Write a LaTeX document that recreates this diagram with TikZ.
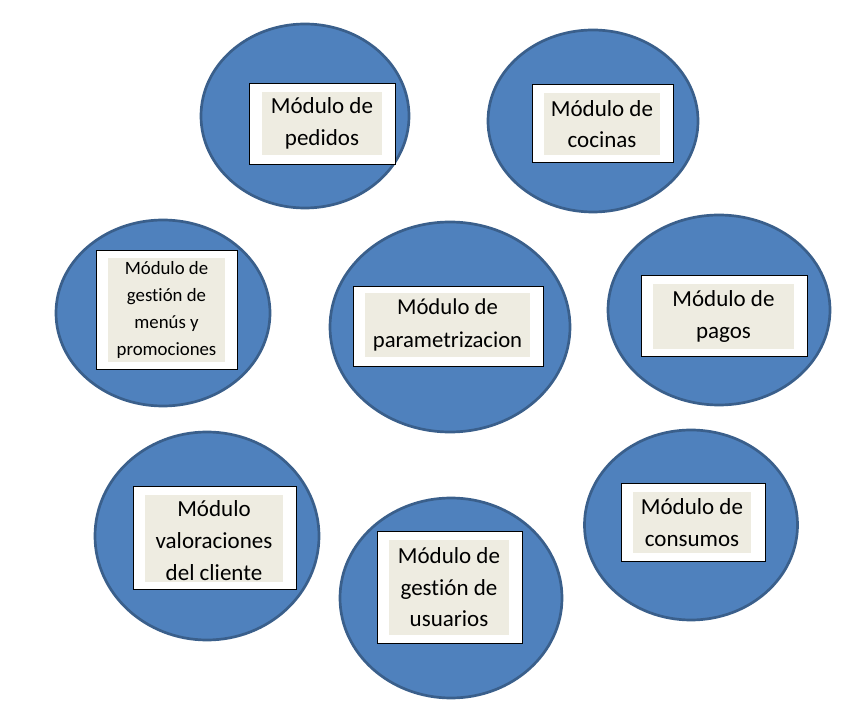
\documentclass[tikz,border=0pt]{standalone}
\usepackage{fontspec}
\setmainfont[Ligatures={NoCommon,NoRare,NoContextual}]{Carlito}
\usetikzlibrary{shapes.geometric}
\definecolor{ellfill}{HTML}{4F81BD}
\definecolor{elldraw}{HTML}{3A5F8B}
\definecolor{beige}{HTML}{EEECE1}
\tikzset{
  modell/.style={ellipse, fill=ellfill, draw=elldraw, line width=2.7pt, inner sep=0pt},
  whitebox/.style={rectangle, fill=white, draw=black, line width=1pt, inner sep=0pt},
  beigebox/.style={rectangle, fill=beige, inner sep=0pt, align=center, text=black},
  bigtxt/.style={font=\fontsize{23}{31.5}\selectfont},
  smalltxt/.style={font=\fontsize{18.8}{27}\selectfont},
}
\begin{document}
\begin{tikzpicture}[x=1pt,y=-1pt]
\useasboundingbox (0,0) rectangle (863,708);
% Pedidos
\node[modell, minimum width=208, minimum height=184] (ePed) at (305,116) {};
\node[whitebox, minimum width=146, minimum height=81] (wPed) at (322,124.5) {};
\node[beigebox, bigtxt, minimum width=120, minimum height=63] (bPed) at (322,123.5) {Módulo de\\pedidos};
% Cocinas
\node[modell, minimum width=210, minimum height=182] (eCoc) at (593,121) {};
\node[whitebox, minimum width=141, minimum height=78] (wCoc) at (602.5,124) {};
\node[beigebox, bigtxt, minimum width=116, minimum height=62] (bCoc) at (602,124) {Módulo de\\cocinas};
% Menus
\node[modell, minimum width=214, minimum height=186] (eMen) at (163,313) {};
\node[whitebox, minimum width=141, minimum height=119] (wMen) at (166.5,310.5) {};
\node[beigebox, smalltxt, minimum width=117, minimum height=104] (bMen) at (166.5,310) {Módulo de\\gestión de\\menús y\\promociones};
% Parametrizacion
\node[modell, minimum width=240, minimum height=210] (ePar) at (450,327) {};
\node[whitebox, minimum width=190, minimum height=80] (wPar) at (448,327) {};
\node[beigebox, font=\fontsize{22.7}{33}\selectfont, minimum width=165, minimum height=64] (bPar) at (447.5,325) {Módulo de\\parametrizacion};
% Pagos
\node[modell, minimum width=222, minimum height=190] (ePag) at (719,310) {};
\node[whitebox, minimum width=166, minimum height=81] (wPag) at (724,316.5) {};
\node[beigebox, bigtxt, minimum width=141, minimum height=65] (bPag) at (723.5,316.5) {Módulo de\\pagos};
% Valoraciones
\node[modell, minimum width=224, minimum height=208] (eVal) at (207,536) {};
\node[whitebox, minimum width=163, minimum height=103] (wVal) at (214.5,538.5) {};
\node[beigebox, minimum width=138, minimum height=87] (bVal) at (214,538.5) {};
\node[align=center, inner sep=0pt, font=\fontsize{23}{32}\selectfont] (tVal) at (214,541) {Módulo\\valoraciones\\del cliente};
% Usuarios
\node[modell, minimum width=222, minimum height=200] (eUsu) at (451,598) {};
\node[whitebox, minimum width=145, minimum height=111] (wUsu) at (449.5,587.5) {};
\node[beigebox, bigtxt, minimum width=120, minimum height=95] (bUsu) at (449,587.5) {Módulo de\\gestión de\\usuarios};
% Consumos
\node[modell, minimum width=213, minimum height=190] (eCon) at (691,525) {};
\node[whitebox, minimum width=144, minimum height=78] (wCon) at (693,523) {};
\node[beigebox, bigtxt, minimum width=118, minimum height=61] (bCon) at (692,522.5) {Módulo de\\consumos};
\end{tikzpicture}
\end{document}
